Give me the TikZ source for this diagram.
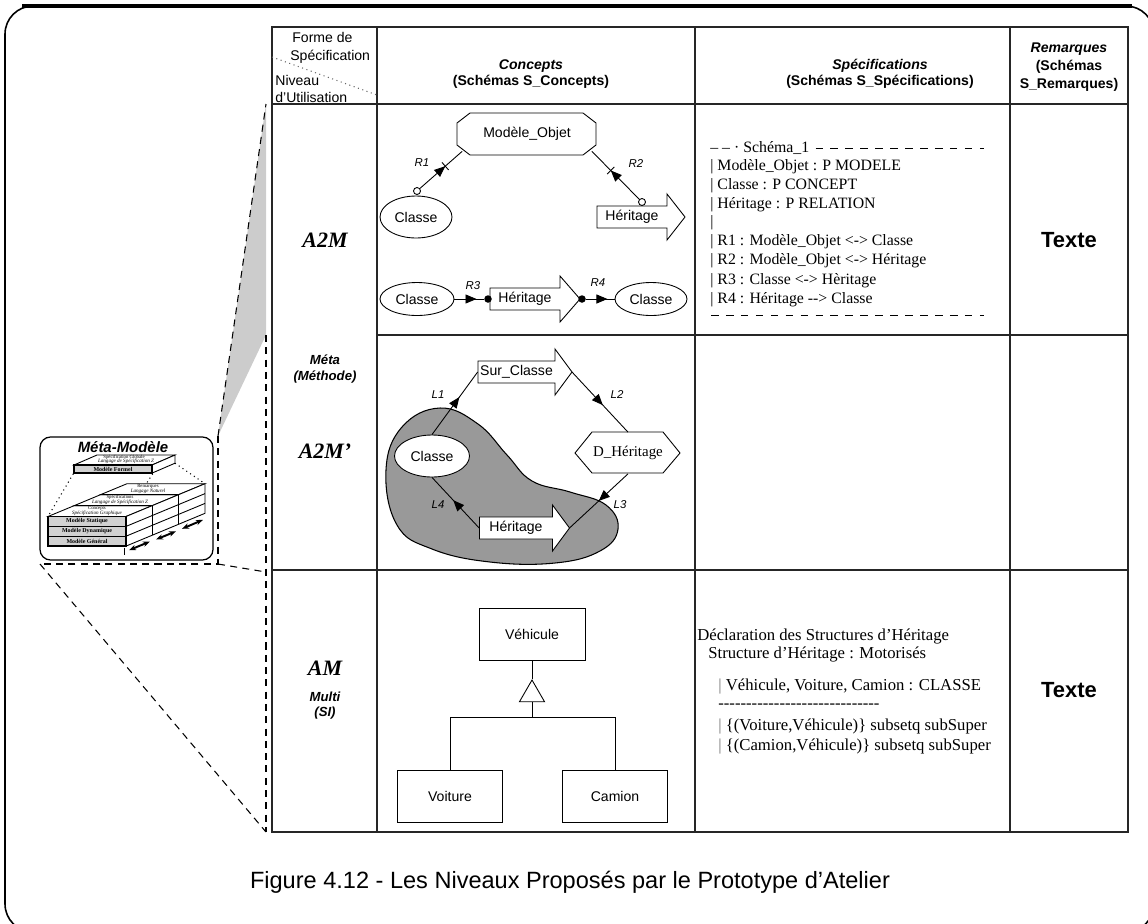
\documentclass[tikz,border=0pt]{standalone}
\usepackage{fontspec}
\setmainfont{Liberation Sans}
\newfontfamily\tms{Liberation Serif}
\usetikzlibrary{shapes.geometric,arrows.meta,decorations.markings,calc}
\tikzset{
 dsh/.style={dashed, dash pattern=on 4pt off 3pt, line width=0.6pt},
 tbl/.style={line width=0.7pt, draw=black!85},
 hd/.style={inner sep=0, font=\fontsize{8}{9.6}\selectfont},
 lbl/.style={inner sep=0, font=\fontsize{6.5}{7}\selectfont\itshape},
 spec/.style={inner sep=0, anchor=base west, font=\tms\fontsize{9}{10}\selectfont},
 specb/.style={inner sep=0, anchor=base west, font=\tms\fontsize{9.5}{11}\selectfont},
 ell/.style={ellipse, draw, fill=white, inner sep=0, line width=0.5pt, font=\fontsize{8}{9.6}\selectfont},
 bx/.style={rectangle, draw, fill=white, inner sep=0, line width=0.5pt, font=\fontsize{8}{9.6}\selectfont},
 oc/.style={circle, draw, fill=white, inner sep=0, minimum size=0.14cm, line width=0.5pt},
 dotn/.style={circle, fill=black, inner sep=0, minimum size=0.15cm},
 rel/.style={line width=0.5pt, decoration={markings, mark=at position #1 with {\arrow{Triangle[length=0.22cm,width=0.18cm]}}}, postaction={decorate}},
 relx/.style={line width=0.5pt, decoration={markings, mark=at position #1 with {\arrow{Triangle[length=0.22cm,width=0.18cm]}\draw (0,-5)--(0,5);}}, postaction={decorate}},
 tiny/.style={inner sep=0, font=\tms\fontsize{2.7}{3}\selectfont},
 tinyi/.style={inner sep=0, font=\tms\itshape\fontsize{2.9}{3.1}\selectfont},
 lvl/.style={inner sep=0, font=\tms\bfseries\itshape\fontsize{12.5}{14}\selectfont},
 lvs/.style={inner sep=0, font=\bfseries\itshape\fontsize{7.5}{9}\selectfont},
 frontbox/.style={draw, line width=0.8pt, fill=black!18, minimum width=1.56cm, minimum height=0.197cm, inner sep=0, font=\tms\bfseries\fontsize{3.4}{3.8}\selectfont},
}
\newcommand{\fatarrow}[6]{%
 \filldraw[fill=white, line width=0.5pt] ({#2-#4/2},{#3-11}) -- ({#2+#4/2},{#3-11}) -- ({#2+#4/2},{#3-23}) -- ({#2+#4/2+#5},#3) -- ({#2+#4/2},{#3+23}) -- ({#2+#4/2},{#3+11}) -- ({#2-#4/2},{#3+11}) -- cycle;
 \node[inner sep=0, minimum width=#4*0.02cm, minimum height=0.44cm, font=\fontsize{8}{9.6}\selectfont] (#1) at (#2,#3) {#6};
 \coordinate (#1tip) at ({#2+#4/2+#5},#3);
}
\begin{document}
\begin{tikzpicture}[x=0.02cm,y=-0.02cm]
\clip (0,0) rectangle (1148,923);
% outer frame
\draw[line width=0.9pt, rounded corners=16] (5,6) rectangle (1154,932);
\draw[line width=1.8pt] (22,6) -- (1132,6);

% projection of the meta-model
\fill[black!20] (266,104) -- (266,335) -- (218,436) -- cycle;
\draw[dsh] (218,436) -- (266,104);
\draw[dsh] (266,335) -- (266,832);
\draw[dsh] (218,436) -- (218,564) -- (40,564);
\draw[dsh] (218,564) -- (266,572);
\draw[dsh] (40,564) -- (266,832);

% meta-model box
\draw[line width=0.7pt, rounded corners=6, fill=white] (40,437) rectangle (213,560);
\node[inner sep=0, font=\bfseries\itshape\fontsize{8.5}{10}\selectfont] (mmt) at (123,447) {Méta-Modèle};
% slab
\draw[line width=0.5pt, fill=white] (74,465) -- (97,455) -- (175,455) -- (152,465) -- cycle;
\draw[line width=0.5pt, fill=white] (152,465) -- (175,455) -- (175,463.2) -- (152,473.1) -- cycle;
\node[frontbox, minimum height=0.164cm] (mf) at (113,469) {Modèle Formel};
\node[tiny] (sg) at (124,457.8) {Spécification Globale};
\node[tinyi] (lz1) at (126,461.6) {Langage de Spécification Z};
% dotted links slab -> cube
\draw[dotted, line width=0.6pt] (mf.south west) -- (48,516.5);
\draw[dotted, line width=0.6pt] (mf.south east) -- (126,515);
\draw[dotted, line width=0.6pt] (175,463.2) -- (205,483.7);
% cube top strips
\draw[line width=0.5pt, fill=white] (48,516.5) -- (74.3,505.6) -- (152.3,505.6) -- (126,516.5) -- cycle;
\draw[line width=0.5pt, fill=white] (74.3,505.6) -- (100.7,494.6) -- (178.7,494.6) -- (152.3,505.6) -- cycle;
\draw[line width=0.5pt, fill=white] (100.7,494.6) -- (127,483.7) -- (205,483.7) -- (178.7,494.6) -- cycle;
\node[tiny] (t1) at (148,486.8) {Remarques};
\node[tinyi] (t2) at (148,490.8) {Langage Naturel};
\node[tiny] (t3) at (120,497.8) {Spécifications};
\node[tinyi] (t4) at (120,501.8) {Langage de Spécification Z};
\node[tiny] (t5) at (97,508.8) {Concepts};
\node[tinyi] (t6) at (97,512.8) {Spécification Graphique};
% cube side
\draw[line width=0.5pt, fill=white] (126,516.5) -- (205,483.7) -- (205,513.3) -- (126,546.1) -- cycle;
\draw[line width=0.5pt] (126,526.4) -- (205,493.6) (126,536.2) -- (205,503.4);
\draw[line width=0.5pt] (152.3,505.6) -- (152.3,535.2) (178.7,494.6) -- (178.7,524.2);
% cube front
\node[frontbox] (ms) at (87,521.4) {Modèle Statique};
\node[frontbox] (md) at (87,531.3) {Modèle Dynamique};
\node[frontbox] (mg) at (87,541.2) {Modèle Général};
% arrows under cube
\draw[line width=0.5pt] (124,547.7) -- (124,555.1);
\draw[{Stealth[length=4pt]}-{Stealth[length=4pt]}, line width=1.1pt] (129,550.2) -- (150,541.5);
\draw[{Stealth[length=4pt]}-{Stealth[length=4pt]}, line width=1.1pt] (156,539.5) -- (176,531.3);
\draw[{Stealth[length=4pt]}-{Stealth[length=4pt]}, line width=1.1pt] (182,528.8) -- (203,519.8);

% table
\draw[tbl] (272,27) rectangle (1128,832);
\draw[tbl] (377,27) -- (377,832) (695,27) -- (695,832) (1010,27) -- (1010,832);
\draw[tbl] (272,104) -- (1128,104) (377,335) -- (1128,335) (272,570) -- (1128,570);
\draw[dotted, line width=0.6pt, black!60] (272,57) -- (377,95);

% header
\node[hd, anchor=west] (h1) at (292,37) {Forme de};
\node[hd, anchor=west] (h2) at (290,57) {Spécification};
\node[hd, anchor=west] (h3) at (275,80) {Niveau};
\node[hd, anchor=west] (h4) at (275,97) {d’Utilisation};
\node[hd, font=\bfseries\itshape\fontsize{8}{9.6}\selectfont] (hc1) at (531,66) {Concepts};
\node[hd, font=\bfseries\fontsize{8}{9.6}\selectfont] (hc2) at (531,82) {(Schémas S\_Concepts)};
\node[hd, font=\bfseries\itshape\fontsize{8}{9.6}\selectfont] (hs1) at (880,66) {Spécifications};
\node[hd, font=\bfseries\fontsize{8}{9.6}\selectfont] (hs2) at (880,82) {(Schémas S\_Spécifications)};
\node[hd, font=\bfseries\itshape\fontsize{8}{9.6}\selectfont] (hr1) at (1069,49) {Remarques};
\node[hd, font=\bfseries\fontsize{8}{9.6}\selectfont] (hr2) at (1069,67) {(Schémas};
\node[hd, font=\bfseries\fontsize{8}{9.6}\selectfont] (hr3) at (1069,85) {S\_Remarques)};

% level labels
\node[lvl] (la) at (325,240) {A2M};
\node[lvs] (lm1) at (325,360) {Méta};
\node[lvs] (lm2) at (325,377) {(Méthode)};
\node[lvl] (lb) at (325,451) {A2M’};
\node[lvl] (lc) at (325,668) {AM};
\node[lvs] (ln1) at (325,697) {Multi};
\node[lvs] (ln2) at (325,713) {(SI)};

% A2M concepts
\filldraw[fill=white, line width=0.5pt] (470,113) -- (583,113) -- (596,123) -- (596,145) -- (583,155) -- (470,155) -- (457,145) -- (457,123) -- cycle;
\node[inner sep=0, minimum width=2.78cm, minimum height=0.84cm, font=\fontsize{8}{9.6}\selectfont] (mo) at (527,134) {Modèle\_Objet};
\node[ell, minimum width=1.44cm, minimum height=0.84cm] (c1) at (416,217) {Classe};
\fatarrow{hA}{632}{217}{70}{18}{Héritage}
\node[oc] (o1) at (417,191) {};
\node[oc] (o2) at (642,202) {};
\draw[relx=0.6] (o1) -- ($(mo.south west)+(5,-4)$);
\draw[relx=0.6] (o2) -- ($(mo.south east)+(-5,-4)$);
\node[lbl] (r1) at (422,163) {R1};
\node[lbl] (r2) at (636,164) {R2};

\node[ell, minimum width=1.48cm, minimum height=0.66cm] (c2) at (417,299) {Classe};
\fatarrow{hB}{525}{299}{70}{20}{Héritage}
\node[dotn] (d1) at (488,299) {};
\node[dotn] (d2) at (582,299) {};
\node[ell, minimum width=1.44cm, minimum height=0.66cm] (c3) at (651,299) {Classe};
\draw[rel=0.75] (c2) -- (d1);
\draw[rel=0.75] (d2) -- (c3);
\node[lbl] (r3) at (473,286) {R3};
\node[lbl] (r4) at (598,283) {R4};

% A2M' concepts
\filldraw[fill=black!40, line width=0.6pt] plot[smooth cycle, tension=0.7] coordinates {(386,470) (402,427) (440,408) (478,424) (507,455) (532,481) (570,492) (606,505) (618,529) (600,551) (555,563) (490,562) (432,549) (397,525)};
\node[ell, minimum width=1.5cm, minimum height=0.84cm] (c4) at (432,456) {Classe};
\fatarrow{sc}{516.5}{372}{77}{17}{Sur\_Classe}
\filldraw[fill=white, line width=0.5pt] (575,453) -- (592,432) -- (663,432) -- (680,453) -- (663,473) -- (592,473) -- cycle;
\node[inner sep=0, minimum width=2.1cm, minimum height=0.82cm, font=\tms\fontsize{8.5}{10}\selectfont] (dh) at (628,453) {D\_Héritage};
\fatarrow{hC}{516}{528}{73}{17}{Héritage}
\draw[rel=0.6] (c4.north) -- (sc.west);
\draw[rel=0.55] (sctip) -- (dh.north);
\draw[rel=0.5] (dh.south) -- (hCtip);
\draw[rel=0.55] (hC.west) -- (c4.south);
\node[lbl] (l1) at (438,395) {L1};
\node[lbl] (l2) at (617,395) {L2};
\node[lbl] (l3) at (620,505) {L3};
\node[lbl] (l4) at (438,505) {L4};

% AM concepts
\node[bx, minimum width=2.12cm, minimum height=1.04cm] (veh) at (532,634) {Véhicule};
\node[regular polygon, regular polygon sides=3, draw, line width=0.5pt, minimum size=0.58cm, inner sep=0] (tri) at (532,694.5) {};
\node[bx, minimum width=2.1cm, minimum height=1.04cm] (voi) at (450,796) {Voiture};
\node[bx, minimum width=2.1cm, minimum height=1.04cm] (cam) at (615,796) {Camion};
\coordinate (jn) at (532,717);
\draw[line width=0.5pt] (veh.south) -- (tri.north);
\draw[line width=0.5pt] (tri.south) -- (jn);
\draw[line width=0.5pt] (voi.north) |- (jn) -| (cam.north);

% A2M specifications
\node[spec] (s0) at (710,152) {– – · Schéma\_1};
\draw[line width=0.5pt, dash pattern=on 4.3pt off 4.2pt] ($(s0.base east)+(6,-4)$) -- (984,148);
\node[spec] (s1) at (710,170) {| Modèle\_Objet : P MODELE};
\node[spec] (s2) at (710,189) {| Classe : P CONCEPT};
\node[spec] (s3) at (710,208) {| Héritage : P RELATION};
\node[spec] (s4) at (710,226) {|};
\node[spec] (s5) at (710,245) {| R1 : Modèle\_Objet <-> Classe};
\node[spec] (s6) at (710,264) {| R2 : Modèle\_Objet <-> Héritage};
\node[spec] (s7) at (710,284) {| R3 : Classe <-> Hèritage};
\node[spec] (s8) at (710,303) {| R4 : Héritage -{}-> Classe};
\coordinate (se) at (984,315);
\draw[line width=0.5pt, dash pattern=on 4.3pt off 4.2pt] (711,315) -- (se);

% AM specifications
\node[specb] (a0) at (697,640) {Déclaration des Structures d’Héritage};
\node[specb] (a1) at (708,658) {Structure d’Héritage : Motorisés};
\node[specb] (a2) at (718,690) {{\color{black!55}|} Véhicule, Voiture, Camion : CLASSE};
\node[specb] (a3) at (718,708) {-{}-{}-{}-{}-{}-{}-{}-{}-{}-{}-{}-{}-{}-{}-{}-{}-{}-{}-{}-{}-{}-{}-{}-{}-{}-{}-{}-{}-};
\node[specb] (a4) at (718,730) {{\color{black!55}|} \{(Voiture,Véhicule)\} subsetq subSuper};
\node[specb] (a5) at (718,750) {{\color{black!55}|} \{(Camion,Véhicule)\} subsetq subSuper};

% remarks
\node[inner sep=0, font=\bfseries\fontsize{12.5}{14}\selectfont] (tx1) at (1069,240) {Texte};
\node[inner sep=0, font=\bfseries\fontsize{12.5}{14}\selectfont] (tx2) at (1069,690) {Texte};

% caption
\node[inner sep=0, font=\fontsize{13.4}{15}\selectfont] (cap) at (570,882) {Figure 4.12 - Les Niveaux Proposés par le Prototype d’Atelier};
\end{tikzpicture}
\end{document}
